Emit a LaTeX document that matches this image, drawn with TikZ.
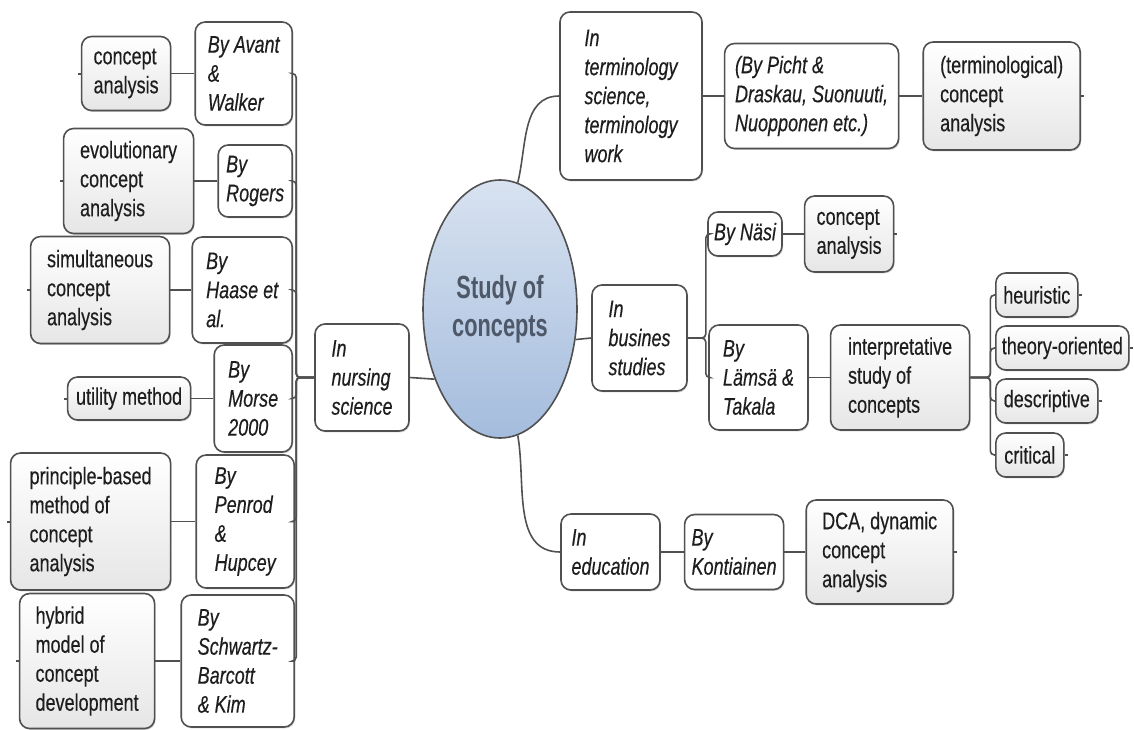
\documentclass[tikz,border=0pt]{standalone}
\usepackage{fontspec}
\setmainfont{Liberation Sans}[FakeStretch=0.75,FakeBold=0.35]
\newfontfamily\titlefont{Liberation Sans}[FakeStretch=0.68]
\usetikzlibrary{positioning,shapes.geometric,shadows}
\definecolor{edgeDark}{RGB}{80,80,80}
\definecolor{leafFill}{RGB}{230,230,230}
\definecolor{hubTop}{RGB}{216,226,240}
\definecolor{hubBottom}{RGB}{164,188,221}
\definecolor{hubText}{RGB}{78,88,104}
\definecolor{textDark}{RGB}{30,30,30}

\begin{document}
\begin{tikzpicture}[
  x=0.5pt,y=-0.5pt,
  box/.style={draw=edgeDark,rounded corners=5pt,line width=0.8pt,align=left,
              inner sep=3pt,text=textDark,font=\fontsize{12}{14.5}\selectfont,
              drop shadow={shadow xshift=0.5pt,shadow yshift=-0.7pt,opacity=0.35}},
  leaf/.style={box,top color=white,bottom color=leafFill},
  author/.style={box,fill=white,font=\fontsize{12}{14.5}\selectfont\itshape},
  field/.style={author},
  hub/.style={ellipse,draw=edgeDark,line width=0.8pt,top color=hubTop,
              bottom color=hubBottom,minimum width=75pt,minimum height=129pt,
              align=center,text=hubText,
              font=\titlefont\bfseries\fontsize{16}{19}\selectfont},
  conn/.style={draw=edgeDark,line width=0.8pt,rounded corners=2pt},
  stub/.style={conn,line width=1pt}
]
\useasboundingbox (0,0) rectangle (1134,729);

% ==========  HUB  ==========
\node[hub] (study) at (500,309) {Study of\\concepts};

% ==========  LEFT: nursing science  ==========
\node[field,minimum width=47pt,minimum height=53.5pt] (nurs) at (362,377.5)
  {In\\nursing\\science};

\node[author,anchor=east,minimum width=48.5pt,minimum height=51.5pt] (avant) at (293,73.5)
  {By Avant\\\&\\Walker};
\node[leaf,left=11.5pt of avant,minimum width=44.5pt,minimum height=37pt] (ca1)
  {concept\\analysis};

\node[author,anchor=east,minimum width=37pt,minimum height=36pt] (rogers) at (293,181)
  {By\\Rogers};
\node[leaf,left=11.5pt of rogers,minimum width=65pt,minimum height=52.5pt] (evo)
  {evolutionary\\concept\\analysis};

\node[author,anchor=east,minimum width=50pt,minimum height=53pt] (haase) at (293,290)
  {By\\Haase et\\al.};
\node[leaf,left=10.5pt of haase,minimum width=69.5pt,minimum height=53.5pt] (simul)
  {simultaneous\\concept\\analysis};

\node[author,anchor=east,minimum width=39pt,minimum height=53.5pt] (morse) at (293,398.5)
  {By\\Morse\\2000};
\node[leaf,left=11pt of morse,minimum width=61.5pt,minimum height=21.5pt] (util)
  {utility method};

\node[author,anchor=east,minimum width=49pt,minimum height=66.5pt] (penrod) at (295,521.5)
  {By\\Penrod\\\&\\Hupcey};
\node[leaf,left=12pt of penrod,minimum width=80pt,minimum height=68.5pt] (princ)
  {principle-based\\method of\\concept\\analysis};

\node[author,anchor=east,minimum width=56.5pt,minimum height=66pt] (schwartz) at (295,661)
  {By\\Schwartz-\\Barcott\\\& Kim};
\node[leaf,left=12.5pt of schwartz,minimum width=67.5pt,minimum height=67.5pt] (hybrid)
  {hybrid\\model of\\concept\\development};

% ==========  RIGHT TOP: terminology  ==========
\node[field,minimum width=71pt,minimum height=84pt] (term) at (631,96)
  {In\\terminology\\science,\\terminology\\work};
\node[author,right=10.5pt of term,minimum width=87pt,minimum height=52.5pt] (picht)
  {(By Picht \&\\Draskau, Suonuuti,\\Nuopponen etc.)};
\node[leaf,right=11.5pt of picht,minimum width=78.5pt,minimum height=54pt] (termca)
  {(terminological)\\concept\\analysis};

% ==========  RIGHT MIDDLE: business studies  ==========
\node[field,minimum width=47.5pt,minimum height=53pt] (bus) at (639.5,338)
  {In\\busines\\studies};
\node[author,minimum width=37pt,minimum height=22pt] (nasi) at (745,234) {By Näsi};
\node[leaf,right=10.5pt of nasi,minimum width=44.5pt,minimum height=38pt] (ca2)
  {concept\\analysis};
\node[author,minimum width=49.5pt,minimum height=52.5pt] (lamsa) at (758.5,377.5)
  {By\\Lämsä \&\\Takala};
\node[leaf,right=10.5pt of lamsa,minimum width=69.5pt,minimum height=52.5pt] (interp)
  {interpretative\\study of\\concepts};

\node[leaf,anchor=west,minimum width=41pt,minimum height=22pt] (heur) at (995,295) {heuristic};
\node[leaf,anchor=west,minimum width=66pt,minimum height=22pt] (theory) at (995,348) {theory-oriented};
\node[leaf,anchor=west,minimum width=51pt,minimum height=22pt] (descr) at (995,401) {descriptive};
\node[leaf,anchor=west,minimum width=34pt,minimum height=22pt] (crit) at (995,455) {critical};

% ==========  RIGHT BOTTOM: education  ==========
\node[field,minimum width=49.5pt,minimum height=38pt] (edu) at (610.5,552)
  {In\\education};
\node[author,right=11.5pt of edu,minimum width=49.5pt,minimum height=37.5pt] (kont)
  {By\\Kontiainen};
\node[leaf,right=10.5pt of kont,minimum width=73.5pt,minimum height=52pt] (dca)
  {DCA, dynamic\\concept\\analysis};

% ==========  Connectors: hub to fields  ==========
\draw[conn] (nurs.east) -- (study.227);
\draw[conn] (study.-22) -- (bus.west);
\draw[conn] (study.82) to[out=76,in=180] (term.west);
\draw[conn] (study.-82) to[out=-80,in=180] (edu.west);

% ==========  Connectors: nursing spine  ==========
\foreach \b in {avant,rogers,haase,morse,penrod,schwartz}
  \draw[conn] (nurs.west) -- ++(-18,0) |- (\b.east);
\foreach \b/\l in {avant/ca1,rogers/evo,haase/simul,morse/util,penrod/princ,schwartz/hybrid}
  \draw[conn] (\b.west) -- (\l.east);

% ==========  Connectors: right side  ==========
\draw[conn] (term.east) -- (picht.west);
\draw[conn] (picht.east) -- (termca.west);
\foreach \b in {nasi,lamsa}
  \draw[conn] (bus.east) -- ++(18,0) |- (\b.west);
\draw[conn] (nasi.east) -- (ca2.west);
\draw[conn] (lamsa.east) -- (interp.west);
\foreach \l in {heur,theory,descr,crit}
  \draw[conn] (interp.east) -- ++(20,0) |- (\l.west);
\draw[conn] (edu.east) -- (kont.west);
\draw[conn] (kont.east) -- (dca.west);

% collapsed-branch stubs at free ends
\foreach \l in {ca1,evo,simul,util,princ,hybrid}
  \draw[stub] (\l.west) -- ++(-3,0);
\foreach \l in {termca,ca2,heur,theory,descr,crit,dca}
  \draw[stub] (\l.east) -- ++(3,0);

\end{tikzpicture}
\end{document}
